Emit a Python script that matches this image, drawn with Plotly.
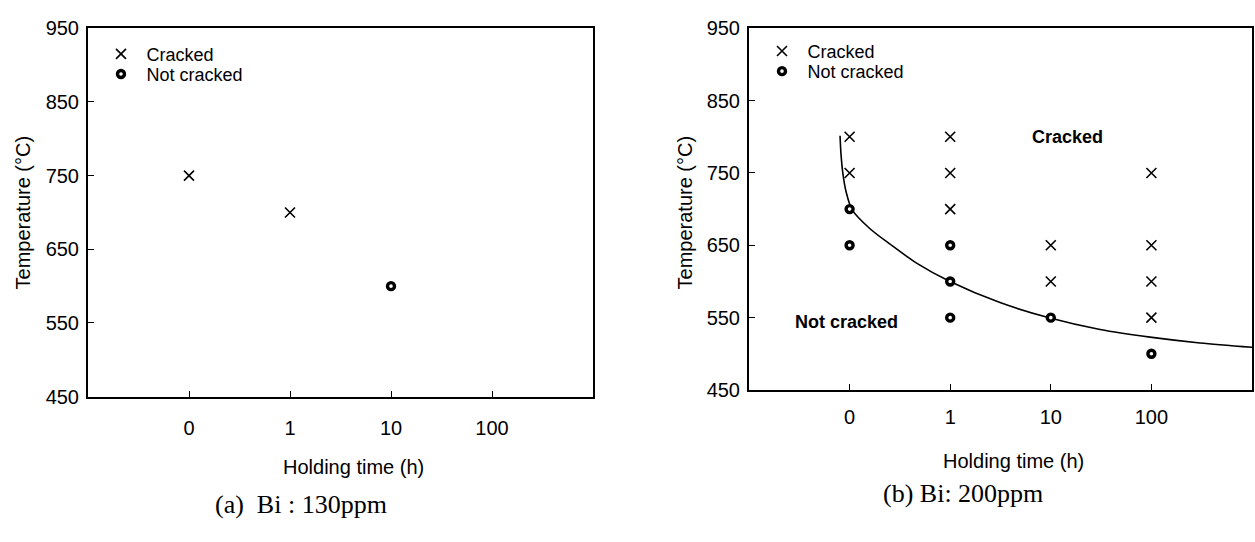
import plotly.graph_objects as go

# ---- data ----
tick_labels = ["0", "1", "10", "100"]
tick_pos = [0, 1, 2, 3]
y_ticks = [450, 550, 650, 750, 850, 950]

# panel (a) Bi 130ppm
a_cracked_x = [0, 1]
a_cracked_y = [750, 700]
a_notcr_x = [2]
a_notcr_y = [600]

# panel (b) Bi 200ppm
b_cracked_x = [0, 0, 1, 1, 1, 2, 2, 3, 3, 3, 3]
b_cracked_y = [800, 750, 800, 750, 700, 650, 600, 750, 650, 600, 550]
b_notcr_x = [0, 0, 1, 1, 1, 2, 3]
b_notcr_y = [700, 650, 650, 600, 550, 550, 500]

# boundary curve (b)
curve_x = [-0.095, -0.085, -0.066, -0.036, 0.024, 0.203, 0.402, 0.67, 0.998, 1.495, 1.992, 2.49, 2.986, 3.483, 4.0]
curve_y = [801.5, 775, 748.4, 724.6, 699.4, 672.9, 651.6, 625, 599.9, 570.8, 549.5, 533.6, 523, 515, 509]

W, H = 1255, 542
FONT = "Liberation Sans, Arial, sans-serif"
SERIF = "Liberation Serif, Times New Roman, serif"

def px(x):
    return x / W

def py(y):
    return 1 - y / H

fig = go.Figure()

x_mark = dict(symbol="x-thin", size=10, color="black", line=dict(color="black", width=1.6))
o_mark = dict(symbol="circle", size=7, color="white", line=dict(color="black", width=3.4))

# panel a
fig.add_trace(go.Scatter(x=a_cracked_x, y=a_cracked_y, mode="markers", marker=x_mark,
                         name="Cracked", xaxis="x", yaxis="y", legend="legend"))
fig.add_trace(go.Scatter(x=a_notcr_x, y=a_notcr_y, mode="markers", marker=o_mark,
                         name="Not cracked", xaxis="x", yaxis="y", legend="legend2"))
# panel b
fig.add_trace(go.Scatter(x=curve_x, y=curve_y, mode="lines",
                         line=dict(color="black", width=1.6, shape="spline", smoothing=0.8),
                         showlegend=False, xaxis="x2", yaxis="y2", hoverinfo="skip"))
fig.add_trace(go.Scatter(x=b_cracked_x, y=b_cracked_y, mode="markers", marker=x_mark,
                         name="Cracked", xaxis="x2", yaxis="y2", legend="legend3"))
fig.add_trace(go.Scatter(x=b_notcr_x, y=b_notcr_y, mode="markers", marker=o_mark,
                         name="Not cracked", xaxis="x2", yaxis="y2", legend="legend4"))

axis_common = dict(showline=True, linecolor="black", linewidth=2, mirror=True, ticks="inside",
                   ticklen=6, tickwidth=1, tickcolor="black", showgrid=False, zeroline=False,
                   tickfont=dict(family=FONT, size=20, color="black"))

xa = dict(axis_common, range=[-1, 4], tickvals=tick_pos, ticktext=tick_labels)
ya = dict(axis_common, range=[450, 950], tickvals=y_ticks, ticklabelstandoff=3)

def leg(xs, ys):
    # xs, ys: pixel position of the legend symbol centre
    return dict(x=px(xs - 25.5), y=py(ys), xanchor="left", yanchor="middle", bgcolor="rgba(0,0,0,0)",
                font=dict(family=FONT, size=18, color="black"), itemwidth=41, borderwidth=0,
                valign="middle")

fig.update_layout(
    width=W, height=H, margin=dict(l=0, r=0, t=0, b=0),
    paper_bgcolor="white", plot_bgcolor="white",
    xaxis=dict(xa, domain=[px(88), px(593)], anchor="y", ticklabelstandoff=12),
    yaxis=dict(ya, domain=[py(402), py(18)], anchor="x"),
    xaxis2=dict(xa, domain=[px(749), px(1252)], anchor="y2", ticklabelstandoff=8),
    yaxis2=dict(ya, domain=[py(395), py(18)], anchor="x2"),
    legend=leg(121, 45),
    legend2=leg(121, 66),
    legend3=leg(782, 42),
    legend4=leg(782, 63),
    showlegend=True,
)

ann = []
def t(x, y, text, size=20, family=FONT, angle=0):
    ann.append(dict(x=px(x), y=py(y), xref="paper", yref="paper", text=text, showarrow=False,
                    textangle=angle, xanchor="center", yanchor="middle",
                    font=dict(family=family, size=size, color="black")))

t(353, 475, "Holding time (h)")
t(1013, 469, "Holding time (h)")
t(23, 210, "Temperature (°C)", angle=-90)
t(685, 210, "Temperature (°C)", angle=-90)
t(301, 514, "(a)  Bi : 130ppm", size=26, family=SERIF)
t(963, 503, "(b) Bi: 200ppm", size=26, family=SERIF)
# region labels in panel b (data coords)
ann.append(dict(x=2.17, y=800, xref="x2", yref="y2", text="<b>Cracked</b>", showarrow=False,
                font=dict(family=FONT, size=18, color="black")))
ann.append(dict(x=-0.03, y=544, xref="x2", yref="y2", text="<b>Not cracked</b>", showarrow=False,
                font=dict(family=FONT, size=18, color="black")))
fig.update_layout(annotations=ann)

fig.write_html("out.html")
